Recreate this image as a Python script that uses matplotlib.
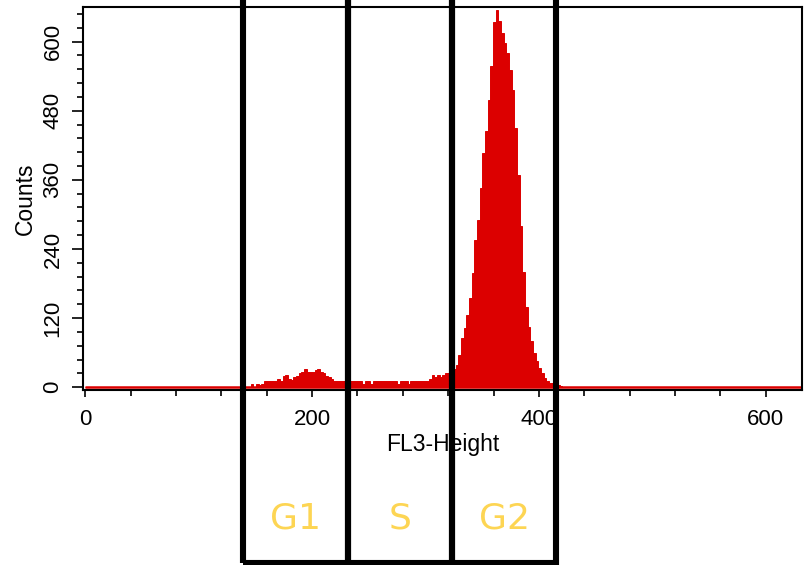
import numpy as np
import matplotlib.pyplot as plt
import matplotlib.transforms as mtransforms
from matplotlib.patches import Rectangle

plt.rcParams['font.family'] = ['Liberation Sans', 'DejaVu Sans']

# canales del citómetro: ancho de bin y primer bin con cuentas
bin_width = 2.35
first_bin = 59
n_bins = 270

# cuentas por bin a partir de first_bin (el resto de canales está en 0)
counts_g1 = [1, 1, 1, 6, 1, 6, 3, 6, 11, 11, 11, 11, 11, 15, 11, 19, 21, 15, 12,
             17, 19, 24, 27, 31, 27, 27, 27, 30, 31, 27, 24, 19, 17, 15, 11,
             11, 11, 11, 11, 11, 11]
counts_s = [11, 11, 11, 11, 6, 11, 11, 6, 11, 11, 11, 11, 11, 11, 11, 11, 11,
            6, 11, 11, 11, 6, 11, 11, 11, 11, 11, 11, 11,
            15, 21, 17, 21, 17, 21, 25, 25, 28, 32]
counts_g2 = [38, 56, 85, 102, 125, 155, 198, 256, 290, 345, 406, 444, 499, 557,
             634, 655, 635, 615, 598, 580, 551, 516, 450, 369, 279, 200, 140,
             105, 80, 60, 45, 33, 24, 16, 11, 8, 7, 6, 4, 2]

# límites de las regiones del ciclo celular (en unidades FL3-Height)
gate_edges = [139, 232, 323.5, 415]
gate_names = ['G1', 'S', 'G2']

x_major = [0, 200, 400, 600]
y_major = [0, 120, 240, 360, 480, 600]

red = '#dc0000'
yellow = '#fdd553'

# histograma completo
counts = np.zeros(n_bins)
listed = counts_g1 + counts_s + counts_g2
counts[first_bin:first_bin + len(listed)] = listed
edges = np.arange(n_bins + 1) * bin_width

fig = plt.figure(figsize=(8.07, 5.65), dpi=100)
ax = fig.add_axes([0.1029, 0.3106, 0.891, 0.677])

# barras contiguas; el borde del mismo color tapa las juntas
ax.bar(edges[:-1], counts, width=bin_width, align='edge', color=red,
       edgecolor=red, lw=0.7)
ax.plot([edges[0], edges[-1]], [0, 0], color=red, lw=1.8, solid_capstyle='butt')

ax.set_xlim(-2, 632)
ax.set_ylim(-4, 660)

ax.set_xticks(x_major)
ax.set_xticks(np.arange(0, 632, 40), minor=True)
ax.set_yticks(y_major)
ax.set_yticks(np.arange(0, 660, 24), minor=True)
ax.set_yticklabels([str(v) for v in y_major], rotation=90, va='center')

ax.tick_params(axis='x', which='major', direction='out', length=5, width=1.2,
               labelsize=16, pad=9)
ax.tick_params(axis='x', which='minor', direction='out', length=4, width=1.2)
ax.tick_params(axis='y', which='major', direction='out', length=8, width=1.2,
               labelsize=16, pad=6)
ax.tick_params(axis='y', which='minor', direction='out', length=4.5, width=1.2)

for s in ax.spines.values():
    s.set_linewidth(1.5)

ax.set_xlabel('FL3-Height', fontsize=16.5, labelpad=2)
ax.set_ylabel('Counts', fontsize=16.5, labelpad=4)

# cajas de las fases G1, S, G2 (x en datos, y en figura)
blend = mtransforms.blended_transform_factory(ax.transData, fig.transFigure)
for i, name in enumerate(gate_names):
    x0, x1 = gate_edges[i], gate_edges[i + 1]
    rect = Rectangle((x0, 0.0035), x1 - x0, 1.1, transform=blend,
                     fill=False, edgecolor='black', lw=4.4, clip_on=False,
                     zorder=10, joinstyle='miter')
    ax.add_patch(rect)
    ax.text((x0 + x1) / 2, 0.083, name, transform=blend, ha='center',
            va='center', fontsize=26, color=yellow, family=['DejaVu Sans'],
            clip_on=False)

fig.savefig('out.png', dpi=100)
